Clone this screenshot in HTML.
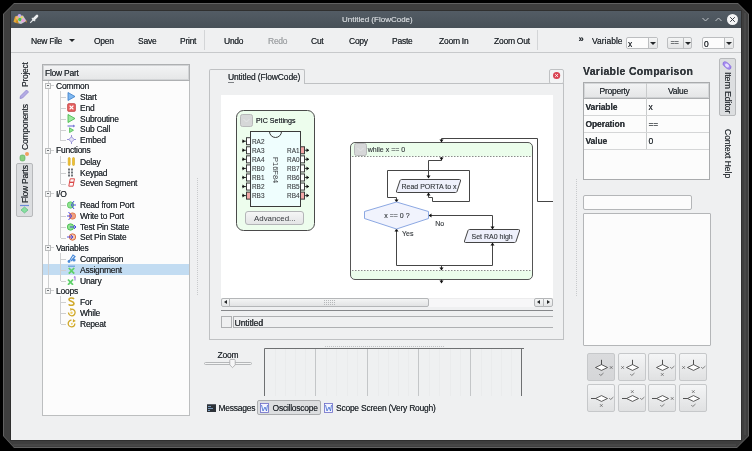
<!DOCTYPE html>
<html><head><meta charset="utf-8">
<style>
*{box-sizing:border-box;margin:0;padding:0}
html,body{width:752px;height:451px;overflow:hidden;background:#000}
body{position:relative;-webkit-font-smoothing:antialiased;font-family:"Liberation Sans",sans-serif;font-size:8.5px;letter-spacing:-0.25px;color:#31363b}
.a{position:absolute}
.t{position:absolute;transform:translateZ(0);white-space:nowrap;line-height:1;text-shadow:0 0 0.3px currentColor}
.rl{transform-origin:left top;transform:rotate(-90deg) translateZ(0)}
.rr{transform-origin:left top;transform:rotate(90deg) translateZ(0)}
</style></head><body>
<!-- window frame -->
<div class="a" style="left:3px;top:3px;width:746px;height:445px;background:#616161;clip-path:polygon(11px 0,calc(100% - 11px) 0,100% 11px,100% calc(100% - 12px),calc(100% - 12px) 100%,11px 100%,0 calc(100% - 12px),0 11px)"></div>
<div class="a" style="left:4px;top:4px;width:744px;height:443px;background:#3e3e3e;clip-path:polygon(10px 0,calc(100% - 10px) 0,100% 10px,100% calc(100% - 11px),calc(100% - 11px) 100%,10px 100%,0 calc(100% - 11px),0 10px)"></div>
<div class="a" style="left:744px;top:13px;width:2px;height:422px;background:#474747"></div>
<div class="a" style="left:13px;top:444px;width:723px;height:2px;background:#464646"></div>
<div class="a" style="left:10px;top:10px;width:732px;height:431px;background:#2f2f2f"></div>
<!-- title bar -->
<div class="a" style="left:11px;top:11px;width:730px;height:17px;background:linear-gradient(#535c65,#475057)"></div>
<div class="t" style="left:342px;top:16px;font-size:8px;letter-spacing:0;color:#c9cdd1">Untitled (FlowCode)</div>
<!-- content bg -->
<div class="a" style="left:11px;top:28px;width:730px;height:412px;background:#eff0f1"></div>
<!-- toolbar bottom line -->
<div class="a" style="left:11px;top:52px;width:730px;height:1px;background:#c7c9cb"></div>
<!-- toolbar -->
<div class="t" style="left:31px;top:37px">New File</div>
<div class="a" style="left:68.5px;top:38.8px;width:0;height:0;border-left:3px solid transparent;border-right:3px solid transparent;border-top:3.2px solid #232629"></div>
<div class="t" style="left:94px;top:37px">Open</div>
<div class="t" style="left:138px;top:37px">Save</div>
<div class="t" style="left:180px;top:37px">Print</div>
<div class="a" style="left:204px;top:30px;width:1px;height:20px;background:#d3d5d7"></div>
<div class="t" style="left:224px;top:37px">Undo</div>
<div class="t" style="left:268px;top:37px;color:#a3a6a9">Redo</div>
<div class="t" style="left:311px;top:37px">Cut</div>
<div class="t" style="left:349px;top:37px">Copy</div>
<div class="t" style="left:392px;top:37px">Paste</div>
<div class="t" style="left:439px;top:37px">Zoom In</div>
<div class="t" style="left:494px;top:37px">Zoom Out</div>
<div class="a" style="left:537px;top:30px;width:1px;height:20px;background:#d3d5d7"></div>
<div class="t" style="left:578.5px;top:33.5px;font-size:9.5px;font-weight:bold;letter-spacing:0">&raquo;</div>
<div class="t" style="left:592px;top:37px;letter-spacing:0">Variable</div>
<!-- combos -->
<div class="a" style="left:626px;top:37px;width:32px;height:12px;border:1px solid #bcbec0;border-radius:2px;background:#fcfcfc"></div>
<div class="a" style="left:648px;top:38px;width:9px;height:10px;border-left:1px solid #bcbec0;background:linear-gradient(#f4f5f5,#e3e4e5)"></div>
<div class="a" style="left:649.5px;top:41.5px;width:0;height:0;border-left:3px solid transparent;border-right:3px solid transparent;border-top:3.5px solid #232629"></div>
<div class="t" style="left:628px;top:40px">x</div>
<div class="a" style="left:667px;top:37px;width:25px;height:12px;border:1px solid #bcbec0;border-radius:2px;background:linear-gradient(#f4f5f5,#e3e4e5)"></div>
<div class="a" style="left:683px;top:38px;width:1px;height:10px;background:#bcbec0"></div>
<div class="a" style="left:684.5px;top:41.5px;width:0;height:0;border-left:3px solid transparent;border-right:3px solid transparent;border-top:3.5px solid #232629"></div>
<div class="t" style="left:670.5px;top:39px;font-size:7.5px;letter-spacing:-0.4px;color:#4a4e52">==</div>
<div class="a" style="left:702px;top:37px;width:32px;height:12px;border:1px solid #bcbec0;border-radius:2px;background:#fcfcfc"></div>
<div class="a" style="left:724px;top:38px;width:9px;height:10px;border-left:1px solid #bcbec0;background:linear-gradient(#f4f5f5,#e3e4e5)"></div>
<div class="a" style="left:725.5px;top:41.5px;width:0;height:0;border-left:3px solid transparent;border-right:3px solid transparent;border-top:3.5px solid #232629"></div>
<div class="t" style="left:704px;top:40px">0</div>

<!-- title icons -->
<svg class="a" style="left:12px;top:13px" width="16" height="12" viewBox="0 0 16 12"><path d="M2 9 L4 3 L11 2.5 L14.5 8 L9 11 Z" fill="#c8c8d4"/><path d="M1.5 9 L3 3.5 L5.5 3 L6 10 Z" fill="#e3a93a"/><path d="M3.5 10 L5 6 L7 10.5 Z" fill="#c88a20"/><circle cx="7.5" cy="2.8" r="1.8" fill="#c2a8f0"/><circle cx="5.5" cy="5" r="1.6" fill="#f0b080"/><circle cx="8" cy="6.5" r="1.8" fill="#48c848"/><circle cx="11" cy="7.2" r="1.8" fill="#eaa0d8"/><circle cx="9.8" cy="4.2" r="1.3" fill="#e8d070"/><path d="M14 7 L15 9.5 L13.5 9" fill="#d8902a"/></svg>
<svg class="a" style="left:29px;top:14px" width="10" height="10" viewBox="0 0 10 10"><path d="M4.5 5.5 L8 2" stroke="#eef0f2" stroke-width="2.6" stroke-linecap="round"/><path d="M2.8 3.8 L6.2 7.2" stroke="#e6e8ea" stroke-width="1.1"/><path d="M4.5 5.5 L1.2 8.8" stroke="#dfe2e5" stroke-width="1.1"/></svg>
<!-- window buttons -->
<svg class="a" style="left:700px;top:15px" width="40" height="10" viewBox="0 0 40 10"><path d="M2.5 3 L5.5 6 L8.5 3" fill="none" stroke="#c4c8cc" stroke-width="1"/><path d="M15.5 6 L18.5 3 L21.5 6" fill="none" stroke="#c4c8cc" stroke-width="1"/></svg>
<div class="a" style="left:727px;top:14px;width:11px;height:11px;border-radius:50%;background:#f4f5f6"></div>
<svg class="a" style="left:727px;top:14px" width="11" height="11" viewBox="0 0 11 11"><path d="M3.2 3.2 L7.8 7.8 M7.8 3.2 L3.2 7.8" stroke="#3a4046" stroke-width="1"/></svg>
<!-- left vertical tabs -->
<div class="t rl" style="left:21px;top:87px">Project</div>
<svg class="a" style="left:19px;top:88px" width="11" height="11" viewBox="0 0 11 11"><path d="M1.5 8 L7.5 2 L9.5 4 L3.5 10 L1 10.5 Z" fill="#b3abe3" stroke="#9188d0" stroke-width="0.8"/></svg>
<div class="t rl" style="left:21px;top:150px">Components</div>
<svg class="a" style="left:19px;top:151px" width="11" height="11" viewBox="0 0 11 11"><rect x="1" y="4" width="5" height="6" rx="2" fill="#88d080" stroke="#58a858" stroke-width="0.6"/><circle cx="8" cy="3" r="2" fill="#f0a060"/></svg>
<div class="a" style="left:16px;top:163px;width:17px;height:54px;border:1px solid #b7b9bb;border-radius:2px;background:#dcdee0"></div>
<div class="t rl" style="left:21px;top:203px">Flow Parts</div>
<svg class="a" style="left:19px;top:204px" width="11" height="10" viewBox="0 0 11 10"><path d="M1 1.5 H10" stroke="#6c8ad8" stroke-width="1.2"/><path d="M5.5 3 L9 6 L5.5 9 L2 6 Z" fill="#88e0a0" stroke="#48b070" stroke-width="0.6"/></svg>

<!-- TREE -->
<div class="a" style="left:42px;top:64px;width:148px;height:352px;border:1px solid #bcbebf;background:#fcfcfc"></div>
<div class="a" style="left:42px;top:64px;width:148px;height:17px;border:1px solid #aeb0b2;box-shadow:inset 0 0 0 1px #d2d4d6;background:linear-gradient(#f3f4f5,#e5e6e7)"></div>
<div class="t" style="left:45px;top:69px">Flow Part</div>
<div class="a" style="left:43px;top:264px;width:146px;height:11px;background:#c2dcf2"></div>
<div class="a" style="left:48px;top:81px;width:1px;height:207px;background:#cfd0d1"></div>
<div class="a" style="left:60px;top:91px;width:1px;height:50px;background:#cfd0d1"></div>
<div class="a" style="left:60px;top:156px;width:1px;height:28px;background:#cfd0d1"></div>
<div class="a" style="left:60px;top:199px;width:1px;height:39px;background:#cfd0d1"></div>
<div class="a" style="left:60px;top:253px;width:1px;height:28px;background:#cfd0d1"></div>
<div class="a" style="left:60px;top:296px;width:1px;height:28px;background:#cfd0d1"></div>
<div class="a" style="left:45px;top:83px;width:6px;height:6px;border:1px solid #b9bbbc;background:#f4f5f5"></div>
<div class="a" style="left:47px;top:85px;width:2px;height:1px;background:#6d7175"></div>
<div class="a" style="left:51px;top:85px;width:3px;height:1px;background:#cfd0d1"></div>
<div class="t" style="left:56px;top:81.5px">Common</div>
<div class="a" style="left:61px;top:97px;width:5px;height:1px;background:#cfd0d1"></div>
<svg class="a" style="left:67px;top:91.9px" width="9" height="9" viewBox="0 0 9 9"><path d="M1 0.5 L8 4.5 L1 8.5 Z" fill="#7fb8f0" stroke="#3a7cc8" stroke-width="0.8"/></svg>
<div class="t" style="left:80px;top:93.0px">Start</div>
<div class="a" style="left:61px;top:108px;width:5px;height:1px;background:#cfd0d1"></div>
<svg class="a" style="left:67px;top:102.7px" width="9" height="9" viewBox="0 0 9 9"><rect x="0.5" y="0.5" width="8" height="8" rx="1.5" fill="#e45d5d" stroke="#b83a3a" stroke-width="0.6"/><path d="M2.6 2.6 L6.4 6.4 M6.4 2.6 L2.6 6.4" stroke="#fff" stroke-width="1.3"/></svg>
<div class="t" style="left:80px;top:103.8px">End</div>
<div class="a" style="left:61px;top:119px;width:5px;height:1px;background:#cfd0d1"></div>
<svg class="a" style="left:67px;top:113.5px" width="9" height="9" viewBox="0 0 9 9"><path d="M1 0.5 L8 4.5 L1 8.5 Z" fill="#9fe8a0" stroke="#3cb544" stroke-width="0.8"/></svg>
<div class="t" style="left:80px;top:114.6px">Subroutine</div>
<div class="a" style="left:61px;top:130px;width:5px;height:1px;background:#cfd0d1"></div>
<svg class="a" style="left:67px;top:124.3px" width="9" height="9" viewBox="0 0 9 9"><path d="M0.5 2 H7.5" stroke="#7b7bd8" stroke-width="1.2"/><path d="M6 0.5 L8 2 L6 3.5" fill="#7b7bd8"/><path d="M2.5 3.8 L6.5 6.2 L2.5 8.6 Z" fill="#8fe390" stroke="#3cb544" stroke-width="0.7"/></svg>
<div class="t" style="left:80px;top:125.4px">Sub Call</div>
<div class="a" style="left:61px;top:140px;width:5px;height:1px;background:#cfd0d1"></div>
<svg class="a" style="left:67px;top:135.1px" width="9" height="9" viewBox="0 0 9 9"><path d="M4.5 0 V9 M0 4.5 H9" stroke="#8a84d0" stroke-width="0.9"/><path d="M4.5 1.8 L7.2 4.5 L4.5 7.2 L1.8 4.5 Z" fill="#e4e2f6" stroke="#8a84d0" stroke-width="0.8"/></svg>
<div class="t" style="left:80px;top:136.2px">Embed</div>
<div class="a" style="left:45px;top:148px;width:6px;height:6px;border:1px solid #b9bbbc;background:#f4f5f5"></div>
<div class="a" style="left:47px;top:150px;width:2px;height:1px;background:#6d7175"></div>
<div class="a" style="left:51px;top:150px;width:3px;height:1px;background:#cfd0d1"></div>
<div class="t" style="left:56px;top:146.3px">Functions</div>
<div class="a" style="left:61px;top:162px;width:5px;height:1px;background:#cfd0d1"></div>
<svg class="a" style="left:67px;top:156.7px" width="9" height="9" viewBox="0 0 9 9"><rect x="1.2" y="0.5" width="2" height="8" rx="1" fill="#f0c030" stroke="#c89a10" stroke-width="0.5"/><rect x="5.5" y="0.5" width="2" height="8" rx="1" fill="#f0c030" stroke="#c89a10" stroke-width="0.5"/></svg>
<div class="t" style="left:80px;top:157.8px">Delay</div>
<div class="a" style="left:61px;top:173px;width:5px;height:1px;background:#cfd0d1"></div>
<svg class="a" style="left:67px;top:167.5px" width="9" height="9" viewBox="0 0 9 9"><g fill="#6e7378"><rect x="1" y="0.5" width="2" height="2"/><rect x="4" y="0.5" width="2" height="2"/><rect x="1" y="3.5" width="2" height="2"/><rect x="4" y="3.5" width="2" height="2"/><rect x="1" y="6.5" width="2" height="2"/><rect x="4" y="6.5" width="2" height="2"/></g></svg>
<div class="t" style="left:80px;top:168.6px">Keypad</div>
<div class="a" style="left:61px;top:184px;width:5px;height:1px;background:#cfd0d1"></div>
<svg class="a" style="left:67px;top:178.3px" width="9" height="9" viewBox="0 0 9 9"><path d="M3.2 0.8 H7.5 L6.8 4.3 H2.5 Z M2.5 4.3 H6.8 L6.1 8.2 H1.8 Z" fill="none" stroke="#d83a3a" stroke-width="0.9"/></svg>
<div class="t" style="left:80px;top:179.4px">Seven Segment</div>
<div class="a" style="left:45px;top:191px;width:6px;height:6px;border:1px solid #b9bbbc;background:#f4f5f5"></div>
<div class="a" style="left:47px;top:193px;width:2px;height:1px;background:#6d7175"></div>
<div class="a" style="left:51px;top:193px;width:3px;height:1px;background:#cfd0d1"></div>
<div class="t" style="left:56px;top:189.5px">I/O</div>
<div class="a" style="left:61px;top:205px;width:5px;height:1px;background:#cfd0d1"></div>
<svg class="a" style="left:67px;top:199.9px" width="9" height="9" viewBox="0 0 9 9"><circle cx="3.5" cy="5" r="3.2" fill="#8fe390" stroke="#3cb544" stroke-width="0.6"/><path d="M4 5 H9 M7 1 L4.5 4.5 M7 9 L4.5 5.5" stroke="#3c3ce0" stroke-width="0.9"/></svg>
<div class="t" style="left:80px;top:201.0px">Read from Port</div>
<div class="a" style="left:61px;top:216px;width:5px;height:1px;background:#cfd0d1"></div>
<svg class="a" style="left:67px;top:210.7px" width="9" height="9" viewBox="0 0 9 9"><circle cx="5.5" cy="5" r="3.2" fill="#f0a080" stroke="#d86030" stroke-width="0.6"/><path d="M0 5 H5 M1.5 1 L4.5 4.5 M1.5 9 L4.5 5.5" stroke="#3c3ce0" stroke-width="0.9"/></svg>
<div class="t" style="left:80px;top:211.8px">Write to Port</div>
<div class="a" style="left:61px;top:227px;width:5px;height:1px;background:#cfd0d1"></div>
<svg class="a" style="left:67px;top:221.5px" width="9" height="9" viewBox="0 0 9 9"><circle cx="3.5" cy="5" r="3.2" fill="#8fe390" stroke="#3cb544" stroke-width="0.8"/><path d="M3 5 H9 M7 3 L9 5 L7 7" stroke="#3c3ce0" stroke-width="0.9" fill="none"/></svg>
<div class="t" style="left:80px;top:222.6px">Test Pin State</div>
<div class="a" style="left:61px;top:238px;width:5px;height:1px;background:#cfd0d1"></div>
<svg class="a" style="left:67px;top:232.3px" width="9" height="9" viewBox="0 0 9 9"><circle cx="5.5" cy="5" r="3.2" fill="#f3c6b0" stroke="#d86030" stroke-width="0.9"/><path d="M0 5 H6 M4 3 L6 5 L4 7" stroke="#3c3ce0" stroke-width="0.9" fill="none"/></svg>
<div class="t" style="left:80px;top:233.4px">Set Pin State</div>
<div class="a" style="left:45px;top:245px;width:6px;height:6px;border:1px solid #b9bbbc;background:#f4f5f5"></div>
<div class="a" style="left:47px;top:247px;width:2px;height:1px;background:#6d7175"></div>
<div class="a" style="left:51px;top:247px;width:3px;height:1px;background:#cfd0d1"></div>
<div class="t" style="left:56px;top:243.5px">Variables</div>
<div class="a" style="left:61px;top:259px;width:5px;height:1px;background:#cfd0d1"></div>
<svg class="a" style="left:67px;top:253.9px" width="9" height="9" viewBox="0 0 9 9"><path d="M2 7.5 L6 1 L8 2.5 L4 7" fill="none" stroke="#4a8ad8" stroke-width="1.2"/><circle cx="2" cy="7.5" r="1.4" fill="#4a8ad8"/><circle cx="7" cy="6" r="1.6" fill="#4a8ad8"/></svg>
<div class="t" style="left:80px;top:255.0px">Comparison</div>
<div class="a" style="left:61px;top:270px;width:5px;height:1px;background:#cfd0d1"></div>
<svg class="a" style="left:67px;top:264.7px" width="9" height="9" viewBox="0 0 9 9"><path d="M1 1.2 H8" stroke="#4a8ad8" stroke-width="0.9"/><path d="M1.8 3 L7.2 8.6 M7.2 3 L1.8 8.6" stroke="#5cd068" stroke-width="1.8"/></svg>
<div class="t" style="left:80px;top:265.8px">Assignment</div>
<div class="a" style="left:61px;top:281px;width:5px;height:1px;background:#cfd0d1"></div>
<svg class="a" style="left:67px;top:275.5px" width="9" height="9" viewBox="0 0 9 9"><path d="M1 3.5 L6 8.8 M6 3.5 L1 8.8" stroke="#5cd068" stroke-width="1.8"/><path d="M6.8 1.5 L8 0.5 V4.5" stroke="#8a5ad8" stroke-width="0.9" fill="none"/></svg>
<div class="t" style="left:80px;top:276.6px">Unary</div>
<div class="a" style="left:45px;top:288px;width:6px;height:6px;border:1px solid #b9bbbc;background:#f4f5f5"></div>
<div class="a" style="left:47px;top:290px;width:2px;height:1px;background:#6d7175"></div>
<div class="a" style="left:51px;top:290px;width:3px;height:1px;background:#cfd0d1"></div>
<div class="t" style="left:56px;top:286.7px">Loops</div>
<div class="a" style="left:61px;top:302px;width:5px;height:1px;background:#cfd0d1"></div>
<svg class="a" style="left:67px;top:297.1px" width="9" height="9" viewBox="0 0 9 9"><path d="M7 2 C6 0.5 2 0.5 2 2.5 C2 4.5 7 4 7 6.5 C7 8.8 2.5 8.8 1.8 7.2" fill="none" stroke="#d0a828" stroke-width="1.6"/></svg>
<div class="t" style="left:80px;top:298.2px">For</div>
<div class="a" style="left:61px;top:313px;width:5px;height:1px;background:#cfd0d1"></div>
<svg class="a" style="left:67px;top:307.9px" width="9" height="9" viewBox="0 0 9 9"><path d="M1.5 4.5 A3.3 3.3 0 1 0 4.5 1.2" fill="none" stroke="#d0a828" stroke-width="1.3"/><path d="M3 0 L5.5 1.2 L3.5 3" fill="#d0a828"/><circle cx="4.5" cy="4.8" r="1.2" fill="#f0d060"/></svg>
<div class="t" style="left:80px;top:309.0px">While</div>
<div class="a" style="left:61px;top:324px;width:5px;height:1px;background:#cfd0d1"></div>
<svg class="a" style="left:67px;top:318.7px" width="9" height="9" viewBox="0 0 9 9"><path d="M7.8 4.5 A3.3 3.3 0 1 1 4.5 1.2" fill="none" stroke="#d0a828" stroke-width="1.3"/><path d="M6 0 L8.8 2 L5.8 3.5" fill="#d0a828"/><circle cx="4.8" cy="4.8" r="1" fill="#f0d060"/></svg>
<div class="t" style="left:80px;top:319.8px">Repeat</div>
<!-- /TREE -->
<!-- CENTER -->
<div class="a" style="left:197px;top:178px;width:1px;height:118px;background:repeating-linear-gradient(#c8cacc 0 1px,transparent 1px 2px)"></div>
<div class="a" style="left:209px;top:83px;width:355px;height:257px;border:1px solid #bfc1c3"></div>
<div class="a" style="left:209px;top:69px;width:96px;height:15px;border:1px solid #bfc1c3;border-bottom:none;border-radius:2px 2px 0 0;background:#eff0f1"></div>
<div class="t" style="left:228px;top:72.8px;letter-spacing:-0.15px">Untitled (FlowCode)</div>
<div class="a" style="left:228px;top:82px;width:6px;height:1px;background:#7d8084"></div>
<div class="a" style="left:549px;top:69px;width:15px;height:15px;border:1px solid #bfc1c3;border-radius:2px;background:#f3f4f5"></div>
<svg class="a" style="left:552px;top:71px" width="9" height="9" viewBox="0 0 9 9"><circle cx="4.6" cy="4.5" r="3.6" fill="#da4453"/><path d="M3.2 3.1 L6 5.9 M6 3.1 L3.2 5.9" stroke="#fff" stroke-width="0.9"/></svg>
<div class="a" style="left:221px;top:95px;width:332px;height:203px;background:#fff"></div>
<!-- FLOW -->
<svg class="a" style="left:221px;top:95px;font-family:'Liberation Sans';letter-spacing:0;transform:translateZ(0)" width="332" height="203" viewBox="221 95 332 203">
<defs>
 <marker id="ad" markerWidth="4" markerHeight="4" refX="2" refY="3.5" orient="auto" markerUnits="userSpaceOnUse"><path d="M0 0 L4 0 L2 4 Z" fill="#222"/></marker>
</defs>
<!-- PIC box -->
<rect x="236.5" y="110.5" width="78" height="120" rx="7" fill="#edfded" stroke="#4a4a4a" stroke-width="1"/>
<rect x="240.5" y="114.5" width="12" height="12" rx="2" fill="#d6d7d8" stroke="#b8b9ba" stroke-width="1"/>
<path d="M243.5 119 L246.5 122 L249.5 119" fill="none" stroke="#e6e7e8" stroke-width="0.8"/>
<text x="256" y="123" font-size="7.1" fill="#33373b" style="text-shadow:0 0 0.3px #33373b">PIC Settings</text>
<rect x="250.5" y="131.5" width="50" height="75" fill="#effefe" stroke="#3a3a3a" stroke-width="1"/>
<path d="M269.5 131.5 A6 6 0 0 0 281.5 131.5" fill="none" stroke="#3a3a3a" stroke-width="1"/>
<g stroke="#3a3a3a" stroke-width="1">
<rect x="246.5" y="137.70" width="4" height="7" fill="#fff"/>
<rect x="246.5" y="146.77" width="4" height="7" fill="#fff"/>
<rect x="300.5" y="146.77" width="4" height="7" fill="#f4a8a8"/>
<rect x="246.5" y="155.84" width="4" height="7" fill="#fff"/>
<rect x="300.5" y="155.84" width="4" height="7" fill="#fff"/>
<rect x="246.5" y="164.91" width="4" height="7" fill="#fff"/>
<rect x="300.5" y="164.91" width="4" height="7" fill="#fff"/>
<rect x="246.5" y="173.98" width="4" height="7" fill="#fff"/>
<rect x="300.5" y="173.98" width="4" height="7" fill="#fff"/>
<rect x="246.5" y="183.05" width="4" height="7" fill="#fff"/>
<rect x="300.5" y="183.05" width="4" height="7" fill="#fff"/>
<rect x="246.5" y="192.12" width="4" height="7" fill="#f4a8a8"/>
<rect x="300.5" y="192.12" width="4" height="7" fill="#f4a8a8"/>
<path d="M242 141.20H246 M242 150.27H246 M242 159.34H246 M242 168.41H246 M242 177.48H246 M242 186.55H246 M242 195.62H246"/>
<path d="M305 150.27H309 M305 159.34H309 M305 168.41H309 M305 177.48H309 M305 186.55H309 M305 195.62H309"/>
</g>
<g fill="#111">
<path d="M242.5 139.20 L245 141.20 L242.5 143.20Z M242.5 148.27 L245 150.27 L242.5 152.27Z M242.5 157.34 L245 159.34 L242.5 161.34Z M242.5 166.41 L245 168.41 L242.5 170.41Z M242.5 175.48 L245 177.48 L242.5 179.48Z M242.5 184.55 L245 186.55 L242.5 188.55Z M242.5 193.62 L245 195.62 L242.5 197.62Z"/>
<path d="M306.5 148.27 L309 150.27 L306.5 152.27Z M306.5 157.34 L309 159.34 L306.5 161.34Z M306.5 166.41 L309 168.41 L306.5 170.41Z M306.5 175.48 L309 177.48 L306.5 179.48Z M306.5 184.55 L309 186.55 L306.5 188.55Z M306.5 193.62 L309 195.62 L306.5 197.62Z"/>
</g>
<g font-size="6.4" fill="#3a3d40" stroke="#3a3d40" stroke-width="0.1">
<text x="252" y="143.60">RA2</text><text x="252" y="152.67">RA3</text><text x="252" y="161.74">RA4</text><text x="252" y="170.81">RB0</text><text x="252" y="179.88">RB1</text><text x="252" y="188.95">RB2</text><text x="252" y="198.02">RB3</text>
<g text-anchor="end"><text x="299.5" y="152.67">RA1</text><text x="299.5" y="161.74">RA0</text><text x="299.5" y="170.81">RB7</text><text x="299.5" y="179.88">RB6</text><text x="299.5" y="188.95">RB5</text><text x="299.5" y="198.02">RB4</text></g>
</g>
<text x="0" y="0" font-size="7.5" fill="#3a3d40" transform="translate(273,157) rotate(90)">P16F84</text>
<rect x="245.5" y="211.5" width="58" height="13" rx="2.5" fill="url(#btng)" stroke="#b3b5b7"/>
<linearGradient id="btng" x1="0" y1="0" x2="0" y2="1"><stop offset="0" stop-color="#f5f6f6"/><stop offset="1" stop-color="#e3e4e5"/></linearGradient>
<text x="254" y="221" font-size="7.9" fill="#33373b">Advanced...</text>
<!-- while -->
<clipPath id="wc"><rect x="350.5" y="142.5" width="182" height="137" rx="4.5"/></clipPath>
<rect x="350.5" y="142.5" width="182" height="137" rx="4.5" fill="#fff"/>
<g clip-path="url(#wc)"><rect x="350" y="142" width="183" height="14.5" fill="#ebfdeb"/><rect x="350" y="270.5" width="183" height="9" fill="#ebfdeb"/></g>
<path d="M352 156.5 H531 M352 270.5 H531" stroke="#8a8a8a" stroke-width="1" stroke-dasharray="1.5 1.5"/>
<rect x="350.5" y="142.5" width="182" height="137" rx="4.5" fill="none" stroke="#555" stroke-width="1"/>
<rect x="354.5" y="143.5" width="12" height="12" rx="2" fill="#d6d7d8" stroke="#b8b9ba" stroke-width="1"/>
<path d="M357.5 148 L360.5 151 L363.5 148" fill="none" stroke="#e6e7e8" stroke-width="0.8"/>
<text x="367.8" y="152" font-size="7" fill="#33373b" stroke="#33373b" stroke-width="0.12">while x == 0</text>
<g fill="none" stroke="#454545" stroke-width="1">
 <path d="M441.5 142 V138.5 H537.5 V201.5 H553"/>
 <path d="M441.5 157 V160.5 H428.5 V178"/>
 <path d="M387.5 170.5 H469.5 V201.5 H432.5 V197.5 H428.5 V193"/>
 <path d="M387.5 170.5 V197.5 H396.5 V202"/>
 <path d="M429 215.5 H492.5 V229"/>
 <path d="M492.5 243 V265.5 H396.5 V229"/>
 <path d="M441.5 265.5 V270"/>
 <path d="M441.5 279 V283"/>
</g>
<g fill="#111">
 <path d="M439.5 139.5 H443.5 L441.5 142.5Z"/>
 <path d="M439.5 157.5 H443.5 L441.5 160.5Z"/>
 <path d="M426.5 175.5 H430.5 L428.5 178.5Z"/>
 <path d="M426.5 195.5 H430.5 L428.5 192.5Z"/>
 <path d="M394.5 199.5 H398.5 L396.5 202.5Z"/>
 <path d="M490.5 226.5 H494.5 L492.5 229.5Z"/>
 <path d="M490.5 245.5 H494.5 L492.5 242.5Z"/>
 <path d="M394.5 231.5 H398.5 L396.5 228.5Z"/>
 <path d="M431.5 213.5 V217.5 L428.5 215.5Z"/>
 <path d="M439.5 267.5 H443.5 L441.5 270.5Z"/>
 <path d="M439.5 280.5 H443.5 L441.5 283.5Z"/>
</g>
<path d="M401.5 179.5 H459.5 Q461 179.5 460.5 181 L457 191.5 Q456.5 192.5 455.5 192.5 H397.5 Q396 192.5 396.5 191 L400 180.5 Q400.5 179.5 401.5 179.5Z" fill="#eef0fb" stroke="#444" stroke-width="1"/>
<text x="401.5" y="188.5" font-size="7" fill="#33373b" stroke="#33373b" stroke-width="0.12">Read PORTA to x</text>
<path d="M364.5 211.5 L396.5 202 L428.5 211.5 V218.5 L396.5 229 L364.5 218.5Z" fill="#f1f3fd" stroke="#7f9edf" stroke-width="0.9"/>
<text x="384.3" y="218" font-size="7" fill="#33373b" stroke="#33373b" stroke-width="0.12">x == 0 ?</text>
<text x="435.3" y="225.5" font-size="7" fill="#33373b" stroke="#33373b" stroke-width="0.12">No</text>
<text x="402" y="236" font-size="7" fill="#33373b" stroke="#33373b" stroke-width="0.12">Yes</text>
<path d="M469.5 229.5 H518.5 Q520 229.5 519.5 231 L516 241.5 Q515.5 242.5 514.5 242.5 H465.5 Q464 242.5 464.5 241 L468 230.5 Q468.5 229.5 469.5 229.5Z" fill="#eef0fb" stroke="#444" stroke-width="1"/>
<text x="471.5" y="239" font-size="7" fill="#33373b" stroke="#33373b" stroke-width="0.12">Set RA0 high</text>
</svg>
<!-- /FLOW -->

<!-- scrollbar -->
<div class="a" style="left:221px;top:298px;width:332px;height:9px;background:#f7f7f8;border-top:1px solid #ececed"></div>
<div class="a" style="left:221px;top:298px;width:9px;height:9px;border:1px solid #b4b6b8;border-radius:2px 0 0 2px;background:linear-gradient(#f6f7f7,#e4e5e6)"></div>
<div class="a" style="left:224px;top:300px;width:0;height:0;border-top:2.5px solid transparent;border-bottom:2.5px solid transparent;border-right:3px solid #232627"></div>
<div class="a" style="left:229px;top:298px;width:200px;height:9px;border:1px solid #b4b6b8;border-radius:0 2px 2px 0;background:linear-gradient(#f4f5f5,#e2e3e4)"></div>
<svg class="a" style="left:324px;top:300px" width="11" height="5" viewBox="0 0 11 5" fill="#b5b7b9"><rect x="0" y="0" width="1" height="1"/><rect x="2" y="0" width="1" height="1"/><rect x="4" y="0" width="1" height="1"/><rect x="6" y="0" width="1" height="1"/><rect x="8" y="0" width="1" height="1"/><rect x="10" y="0" width="1" height="1"/><rect x="0" y="2" width="1" height="1"/><rect x="2" y="2" width="1" height="1"/><rect x="4" y="2" width="1" height="1"/><rect x="6" y="2" width="1" height="1"/><rect x="8" y="2" width="1" height="1"/><rect x="10" y="2" width="1" height="1"/><rect x="0" y="4" width="1" height="1"/><rect x="2" y="4" width="1" height="1"/><rect x="4" y="4" width="1" height="1"/><rect x="6" y="4" width="1" height="1"/><rect x="8" y="4" width="1" height="1"/><rect x="10" y="4" width="1" height="1"/></svg>
<div class="a" style="left:534px;top:298px;width:10px;height:9px;border:1px solid #b4b6b8;border-radius:2px 0 0 2px;background:linear-gradient(#f6f7f7,#e4e5e6)"></div>
<div class="a" style="left:543px;top:298px;width:10px;height:9px;border:1px solid #b4b6b8;border-radius:0 2px 2px 0;background:linear-gradient(#f6f7f7,#e4e5e6)"></div>
<div class="a" style="left:537px;top:300px;width:0;height:0;border-top:2.5px solid transparent;border-bottom:2.5px solid transparent;border-right:3px solid #232627"></div>
<div class="a" style="left:547px;top:300px;width:0;height:0;border-top:2.5px solid transparent;border-bottom:2.5px solid transparent;border-left:3px solid #232627"></div>
<div class="a" style="left:221px;top:310px;width:332px;height:1px;background:#85878a"></div>
<div class="a" style="left:221px;top:316px;width:11px;height:12px;border:1px solid #aeb0b2"></div>
<div class="a" style="left:233px;top:316px;width:320px;height:12px;border:1px solid #aeb0b2;border-right:none"></div>
<div class="t" style="left:234.5px;top:318.6px;font-size:8.6px;color:#3e4246;letter-spacing:-0.1px;text-shadow:0 0 0.5px #3e4246,0.3px 0 0 #3e4246">Untitled</div>
<!-- bottom dock -->
<div class="t" style="left:217.5px;top:350.8px">Zoom</div>
<div class="a" style="left:204px;top:362px;width:48px;height:3px;border:1px solid #b5b7b9;border-radius:2px;background:#f4f5f5"></div>
<svg class="a" style="left:228px;top:359px" width="9" height="10" viewBox="0 0 9 11"><path d="M1.5 1.5 Q1.5 0.5 2.5 0.5 H6.5 Q7.5 0.5 7.5 1.5 V6.5 L4.5 9.5 L1.5 6.5 Z" fill="#f6f6f7" stroke="#a5a7a9" stroke-width="0.9"/></svg>
<svg class="a" style="left:263px;top:345px" width="265" height="53" viewBox="263 345 265 53">
 <g stroke="#eaebec" stroke-width="1">
  <path d="M275.5 349V396 M285.5 349V396 M295.5 349V396 M305.5 349V396 M326.5 349V396 M336.5 349V396 M347.5 349V396 M357.5 349V396 M378.5 349V396 M388.5 349V396 M398.5 349V396 M408.5 349V396 M429.5 349V396 M439.5 349V396 M450.5 349V396 M460.5 349V396 M481.5 349V396 M491.5 349V396 M501.5 349V396 M511.5 349V396"/>
 </g>
 <g stroke="#c4c6c8" stroke-width="1"><path d="M315.5 349V396 M367.5 349V396 M418.5 349V396 M470.5 349V396"/></g>
 <path d="M264.5 396 V348.5 H524" fill="none" stroke="#6e7072" stroke-width="1"/>
 <path d="M521.5 349 V396" stroke="#6e7072" stroke-width="1"/>
 <path d="M325 346.5 H445" stroke="#c0c2c4" stroke-width="1" stroke-dasharray="1 1"/>
</svg>
<svg class="a" style="left:207px;top:404px" width="9" height="8" viewBox="0 0 9 8"><rect x="0" y="0" width="9" height="8" fill="#2d3238"/><path d="M1 2.5H4 M1 4.5H6 M1 6.5H3" stroke="#8ab4e0" stroke-width="0.8"/><path d="M0 0.5H9" stroke="#5a6068"/></svg>
<div class="t" style="left:218.5px;top:403.6px">Messages</div>
<div class="a" style="left:257px;top:400px;width:64px;height:15px;border:1px solid #abadaf;border-radius:2px;background:#dcdee0"></div>
<svg class="a" style="left:260px;top:402.5px" width="9" height="10" viewBox="0 0 9 10"><rect x="0.5" y="0.5" width="8" height="9" fill="#f4f4ff" stroke="#6b6bc8" stroke-width="0.8"/><path d="M1.5 2 L3 8 L5 4 L6.5 8 L7.5 2" fill="none" stroke="#3c6ad0" stroke-width="0.8"/></svg>
<div class="t" style="left:272.6px;top:403.6px">Oscilloscope</div>
<svg class="a" style="left:324px;top:402.5px" width="9" height="10" viewBox="0 0 9 10"><rect x="0.5" y="0.5" width="8" height="9" fill="#f4f4ff" stroke="#6b6bc8" stroke-width="0.8"/><path d="M1.5 2 L3 8 L5 4 L6.5 8 L7.5 2" fill="none" stroke="#3c6ad0" stroke-width="0.8"/></svg>
<div class="t" style="left:336px;top:403.6px">Scope Screen (Very Rough)</div>
<!-- /CENTER -->

<!-- RIGHT -->
<div class="t" style="left:583px;top:65.5px;font-size:10.5px;font-weight:bold;letter-spacing:0.3px;color:#31363b">Variable Comparison</div>
<div class="a" style="left:583px;top:82px;width:127px;height:98px;border:1px solid #a9abad;background:#fcfcfc"></div>
<div class="a" style="left:584px;top:83px;width:125px;height:16px;background:linear-gradient(#f3f4f5,#e4e5e6);border-bottom:1px solid #aeb0b2;box-shadow:inset 0 1px 0 #d4d6d8,inset 1px 0 0 #d4d6d8,inset -1px 0 0 #d4d6d8,inset 0 -1px 0 #cfd1d3"></div>
<div class="a" style="left:646px;top:83px;width:1px;height:66px;background:#c9cbcc"></div>
<div class="a" style="left:584px;top:115px;width:125px;height:1px;background:#d5d6d7"></div>
<div class="a" style="left:584px;top:132px;width:125px;height:1px;background:#d5d6d7"></div>
<div class="a" style="left:584px;top:149px;width:125px;height:1px;background:#d5d6d7"></div>
<div class="t" style="left:599.5px;top:87px">Property</div>
<div class="t" style="left:668px;top:87px">Value</div>
<div class="t" style="left:585.5px;top:102.7px;font-weight:bold;letter-spacing:-0.1px">Variable</div>
<div class="t" style="left:585.5px;top:119.7px;font-weight:bold;letter-spacing:-0.1px">Operation</div>
<div class="t" style="left:585.5px;top:136.7px;font-weight:bold;letter-spacing:-0.1px">Value</div>
<div class="t" style="left:648.5px;top:102.7px">x</div>
<div class="t" style="left:648.5px;top:119.7px">==</div>
<div class="t" style="left:648.5px;top:136.7px">0</div>
<div class="a" style="left:576px;top:179px;width:1px;height:118px;background:repeating-linear-gradient(#c8cacc 0 1px,transparent 1px 2px)"></div>
<div class="a" style="left:583px;top:195px;width:109px;height:15px;border:1px solid #b4b6b8;border-radius:2px;background:#fcfcfc"></div>
<div class="a" style="left:583px;top:213px;width:128px;height:133px;border:1px solid #b4b6b8;border-radius:1px;background:#fcfcfc"></div>
<!-- right vertical tabs -->
<div class="a" style="left:719px;top:58px;width:17px;height:58px;border:1px solid #b7b9bb;border-radius:2px;background:#dcdee0"></div>
<svg class="a" style="left:721px;top:60px" width="12" height="11" viewBox="0 0 12 11"><ellipse cx="6" cy="5.5" rx="4.8" ry="2.4" transform="rotate(40 6 5.5)" fill="#a88ef0" stroke="#7a5ad8" stroke-width="0.6"/><ellipse cx="6" cy="5.5" rx="2.2" ry="1.6" transform="rotate(40 6 5.5)" fill="#e4dcff"/></svg>
<div class="t rr" style="left:732px;top:72px;font-size:9px;letter-spacing:-0.2px">Item Editor</div>
<div class="t rr" style="left:731.5px;top:129.3px;letter-spacing:0px">Context Help</div>
<!-- branch buttons -->
<div class="a" style="left:587px;top:353px;width:28px;height:28px;border:1px solid #c6c8ca;border-radius:2px;background:linear-gradient(#dadbdd,#d5d6d8)"></div>
<svg class="a" style="left:587px;top:353px" width="29" height="29" viewBox="0 0 29 29"><path d="M8.5 14.5 L14.5 11.6 L20.5 14.5 L14.5 17.4 Z" fill="#fff" stroke="#2a2a2a" stroke-width="0.75"/><path d="M14.5 6.8 V11.6" stroke="#2a2a2a" stroke-width="0.8"/><path d="M22.9 13.2 L25.5 15.8 M25.5 13.2 L22.9 15.8" stroke="#555" stroke-width="0.7"/><path d="M12.3 21 L13.7 22.5 L16.5 20.1" fill="none" stroke="#555" stroke-width="0.7"/></svg>
<div class="a" style="left:618px;top:353px;width:28px;height:28px;border:1px solid #c6c8ca;border-radius:2px;background:linear-gradient(#f4f5f6,#e0e1e2)"></div>
<svg class="a" style="left:618px;top:353px" width="29" height="29" viewBox="0 0 29 29"><path d="M8.5 14.5 L14.5 11.6 L20.5 14.5 L14.5 17.4 Z" fill="#fff" stroke="#2a2a2a" stroke-width="0.75"/><path d="M14.5 6.8 V11.6" stroke="#2a2a2a" stroke-width="0.8"/><path d="M3.3 13.2 L5.9 15.8 M5.9 13.2 L3.3 15.8" stroke="#555" stroke-width="0.7"/><path d="M12.3 21 L13.7 22.5 L16.5 20.1" fill="none" stroke="#555" stroke-width="0.7"/></svg>
<div class="a" style="left:648px;top:353px;width:28px;height:28px;border:1px solid #c6c8ca;border-radius:2px;background:linear-gradient(#f4f5f6,#e0e1e2)"></div>
<svg class="a" style="left:648px;top:353px" width="29" height="29" viewBox="0 0 29 29"><path d="M8.5 14.5 L14.5 11.6 L20.5 14.5 L14.5 17.4 Z" fill="#fff" stroke="#2a2a2a" stroke-width="0.75"/><path d="M14.5 6.8 V11.6" stroke="#2a2a2a" stroke-width="0.8"/><path d="M22.2 14 L23.6 15.5 L26.4 13.1" fill="none" stroke="#555" stroke-width="0.7"/><path d="M13 20.2 L15.6 22.8 M15.6 20.2 L13 22.8" stroke="#555" stroke-width="0.7"/></svg>
<div class="a" style="left:679px;top:353px;width:28px;height:28px;border:1px solid #c6c8ca;border-radius:2px;background:linear-gradient(#f4f5f6,#e0e1e2)"></div>
<svg class="a" style="left:679px;top:353px" width="29" height="29" viewBox="0 0 29 29"><path d="M8.5 14.5 L14.5 11.6 L20.5 14.5 L14.5 17.4 Z" fill="#fff" stroke="#2a2a2a" stroke-width="0.75"/><path d="M14.5 6.8 V11.6" stroke="#2a2a2a" stroke-width="0.8"/><path d="M3.3 13.2 L5.9 15.8 M5.9 13.2 L3.3 15.8" stroke="#555" stroke-width="0.7"/><path d="M22.2 14 L23.6 15.5 L26.4 13.1" fill="none" stroke="#555" stroke-width="0.7"/></svg>
<div class="a" style="left:587px;top:384px;width:28px;height:28px;border:1px solid #c6c8ca;border-radius:2px;background:linear-gradient(#f4f5f6,#e0e1e2)"></div>
<svg class="a" style="left:587px;top:384px" width="29" height="29" viewBox="0 0 29 29"><path d="M8.5 14.5 L14.5 11.6 L20.5 14.5 L14.5 17.4 Z" fill="#fff" stroke="#2a2a2a" stroke-width="0.75"/><path d="M4 14.5 H8.5" stroke="#2a2a2a" stroke-width="0.8"/><path d="M22.2 14 L23.6 15.5 L26.4 13.1" fill="none" stroke="#555" stroke-width="0.7"/><path d="M13 20.2 L15.6 22.8 M15.6 20.2 L13 22.8" stroke="#555" stroke-width="0.7"/></svg>
<div class="a" style="left:618px;top:384px;width:28px;height:28px;border:1px solid #c6c8ca;border-radius:2px;background:linear-gradient(#f4f5f6,#e0e1e2)"></div>
<svg class="a" style="left:618px;top:384px" width="29" height="29" viewBox="0 0 29 29"><path d="M8.5 14.5 L14.5 11.6 L20.5 14.5 L14.5 17.4 Z" fill="#fff" stroke="#2a2a2a" stroke-width="0.75"/><path d="M4 14.5 H8.5" stroke="#2a2a2a" stroke-width="0.8"/><path d="M13 6.3 L15.6 8.9 M15.6 6.3 L13 8.9" stroke="#555" stroke-width="0.7"/><path d="M22.2 14 L23.6 15.5 L26.4 13.1" fill="none" stroke="#555" stroke-width="0.7"/></svg>
<div class="a" style="left:648px;top:384px;width:28px;height:28px;border:1px solid #c6c8ca;border-radius:2px;background:linear-gradient(#f4f5f6,#e0e1e2)"></div>
<svg class="a" style="left:648px;top:384px" width="29" height="29" viewBox="0 0 29 29"><path d="M8.5 14.5 L14.5 11.6 L20.5 14.5 L14.5 17.4 Z" fill="#fff" stroke="#2a2a2a" stroke-width="0.75"/><path d="M4 14.5 H8.5" stroke="#2a2a2a" stroke-width="0.8"/><path d="M22.9 13.2 L25.5 15.8 M25.5 13.2 L22.9 15.8" stroke="#555" stroke-width="0.7"/><path d="M12.3 21 L13.7 22.5 L16.5 20.1" fill="none" stroke="#555" stroke-width="0.7"/></svg>
<div class="a" style="left:679px;top:384px;width:28px;height:28px;border:1px solid #c6c8ca;border-radius:2px;background:linear-gradient(#f4f5f6,#e0e1e2)"></div>
<svg class="a" style="left:679px;top:384px" width="29" height="29" viewBox="0 0 29 29"><path d="M8.5 14.5 L14.5 11.6 L20.5 14.5 L14.5 17.4 Z" fill="#fff" stroke="#2a2a2a" stroke-width="0.75"/><path d="M4 14.5 H8.5" stroke="#2a2a2a" stroke-width="0.8"/><path d="M13 6.3 L15.6 8.9 M15.6 6.3 L13 8.9" stroke="#555" stroke-width="0.7"/><path d="M12.3 21 L13.7 22.5 L16.5 20.1" fill="none" stroke="#555" stroke-width="0.7"/></svg>
<!-- /RIGHT -->

</body></html>
